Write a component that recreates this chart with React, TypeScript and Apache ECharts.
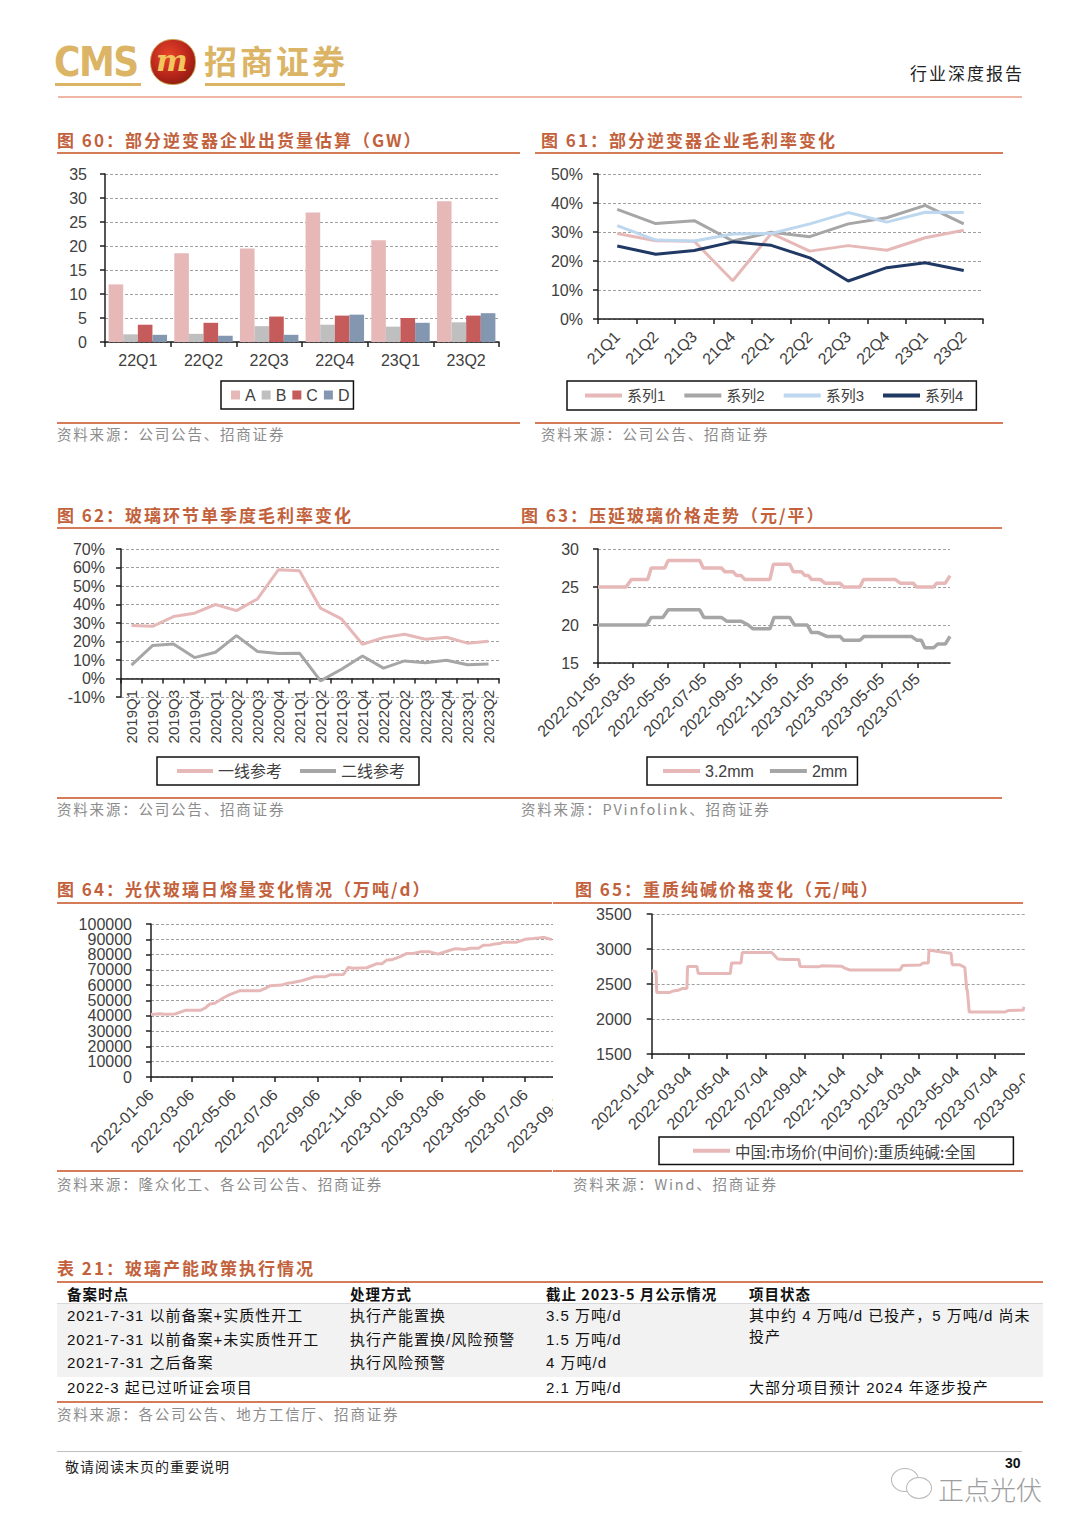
import React, { useEffect, useRef } from 'react';
import * as echarts from 'echarts';

// ---------------- data ----------------
const QUARTERS_60 = ['22Q1', '22Q2', '22Q3', '22Q4', '23Q1', '23Q2'];
const SHIP_A = [12, 18.5, 19.5, 27, 21.2, 29.3];
const SHIP_B = [1.6, 1.7, 3.3, 3.6, 3.2, 4.1];
const SHIP_C = [3.6, 4.0, 5.3, 5.5, 5.0, 5.5];
const SHIP_D = [1.5, 1.3, 1.5, 5.7, 4.0, 6.0];

const QUARTERS_61 = ['21Q1', '21Q2', '21Q3', '21Q4', '22Q1', '22Q2', '22Q3', '22Q4', '23Q1', '23Q2'];
const GM_S1 = [29.5, 27, 26.8, 13.2, 29.5, 23.4, 25.3, 23.7, 28, 30.6];
const GM_S2 = [37.8, 32.9, 33.9, 26.9, 29.9, 28.4, 32.8, 34.9, 39.2, 32.8];
const GM_S3 = [32.2, 27.2, 26.9, 29.3, 29.5, 32.8, 36.7, 33.4, 36.8, 36.7];
const GM_S4 = [25.2, 22.3, 23.6, 26.6, 25.4, 21.1, 13.1, 17.7, 19.4, 16.7];

const QUARTERS_62 = ['2019Q1', '2019Q2', '2019Q3', '2019Q4', '2020Q1', '2020Q2', '2020Q3', '2020Q4', '2021Q1', '2021Q2', '2021Q3', '2021Q4', '2022Q1', '2022Q2', '2022Q3', '2022Q4', '2023Q1', '2023Q2'];
const TIER1_62 = [28.6, 28.2, 33.5, 35.3, 40, 36.7, 43, 58.8, 58.3, 38, 32.2, 18.5, 22.1, 23.9, 21.2, 22.3, 19.1, 20.1];
const TIER2_62 = [7.2, 17.8, 18.7, 11.3, 14.2, 23.2, 14.6, 13.5, 13.7, -1.3, 5, 12.2, 5.6, 9.5, 8.5, 9.9, 7.4, 7.9];

const BASE_63 = '2022-01-05';
const TICKS_63 = ['2022-01-05', '2022-03-05', '2022-05-05', '2022-07-05', '2022-09-05', '2022-11-05', '2023-01-05', '2023-03-05', '2023-05-05', '2023-07-05'];
const END_63 = '2023-08-30';
const G32_DATES = ['2022-01-05', '2022-02-22', '2022-03-03', '2022-03-31', '2022-04-06', '2022-04-29', '2022-05-05', '2022-06-28', '2022-07-04', '2022-08-04', '2022-08-10', '2022-08-24', '2022-08-30', '2022-09-07', '2022-09-13', '2022-10-26', '2022-11-01', '2022-11-29', '2022-12-05', '2022-12-19', '2022-12-25', '2022-12-31', '2023-01-05', '2023-01-20', '2023-01-28', '2023-02-23', '2023-03-01', '2023-03-29', '2023-04-04', '2023-05-28', '2023-06-06', '2023-06-28', '2023-07-04', '2023-08-02', '2023-08-07', '2023-08-22', '2023-08-30'];
const G32_VALUES = [25, 25, 26, 26, 27.5, 27.5, 28.5, 28.5, 27.5, 27.5, 27, 27, 26.5, 26.5, 26, 26, 28, 28, 27, 27, 26.5, 26.5, 26, 26, 25.5, 25.5, 25, 25, 26, 26, 25.5, 25.5, 25, 25, 25.5, 25.5, 26.5];
const G2_DATES = ['2022-01-05', '2022-03-29', '2022-04-06', '2022-04-26', '2022-05-05', '2022-06-28', '2022-07-05', '2022-08-04', '2022-08-13', '2022-09-07', '2022-09-19', '2022-09-27', '2022-10-26', '2022-11-02', '2022-11-29', '2022-12-07', '2022-12-29', '2023-01-05', '2023-01-17', '2023-01-31', '2023-02-23', '2023-03-01', '2023-03-29', '2023-04-05', '2023-06-25', '2023-07-04', '2023-07-12', '2023-07-18', '2023-08-02', '2023-08-09', '2023-08-22', '2023-08-30'];
const G2_VALUES = [20, 20, 21, 21, 22, 22, 21, 21, 20.5, 20.5, 20, 19.5, 19.5, 21, 21, 20, 20, 19, 19, 18.5, 18.5, 18, 18, 18.5, 18.5, 18, 18, 17, 17, 17.5, 17.5, 18.5];

const BASE_64 = '2022-01-06';
const TICKS_64 = ['2022-01-06', '2022-03-06', '2022-05-06', '2022-07-06', '2022-09-06', '2022-11-06', '2023-01-06', '2023-03-06', '2023-05-06', '2023-07-06', '2023-09-06'];
const Y_LABELS_64_EVEN = [0, 20000, 40000, 60000, 80000, 100000];
const Y_LABELS_64_ODD = [10000, 30000, 50000, 70000, 90000];
const MELT_DATES = ['2022-01-06', '2022-01-19', '2022-01-26', '2022-02-10', '2022-02-25', '2022-03-19', '2022-03-26', '2022-04-02', '2022-04-09', '2022-04-22', '2022-05-01', '2022-05-16', '2022-06-14', '2022-06-21', '2022-06-29', '2022-07-16', '2022-07-23', '2022-07-30', '2022-08-12', '2022-09-02', '2022-09-17', '2022-09-24', '2022-10-14', '2022-10-21', '2022-10-28', '2022-11-17', '2022-12-01', '2022-12-09', '2022-12-16', '2022-12-23', '2023-01-04', '2023-01-14', '2023-01-24', '2023-02-03', '2023-02-17', '2023-03-01', '2023-03-14', '2023-03-26', '2023-04-02', '2023-04-09', '2023-04-17', '2023-04-29', '2023-05-06', '2023-05-16', '2023-05-23', '2023-05-30', '2023-06-04', '2023-06-24', '2023-07-06', '2023-07-18', '2023-07-30', '2023-08-04', '2023-08-14'];
const MELT_VALUES = [40800, 41400, 41000, 41200, 43600, 43600, 45100, 47700, 48200, 51800, 53800, 56400, 56400, 57700, 59700, 60100, 61200, 61600, 62700, 65500, 65500, 66800, 67000, 71600, 71100, 71400, 74000, 74000, 76400, 76600, 78500, 80700, 80700, 81800, 81800, 80300, 82200, 83900, 83700, 83300, 84200, 84200, 86100, 86300, 87000, 87200, 88100, 88100, 90000, 90500, 91100, 91100, 89800];

const BASE_65 = '2022-01-04';
const TICKS_65 = ['2022-01-04', '2022-03-04', '2022-05-04', '2022-07-04', '2022-09-04', '2022-11-04', '2023-01-04', '2023-03-04', '2023-05-04', '2023-07-04', '2023-09-04'];
const SODA_DATES = ['2022-01-04', '2022-01-11', '2022-01-12', '2022-02-02', '2022-02-07', '2022-02-15', '2022-02-21', '2022-03-01', '2022-03-02', '2022-03-17', '2022-03-19', '2022-05-09', '2022-05-11', '2022-05-26', '2022-05-28', '2022-07-14', '2022-07-22', '2022-07-24', '2022-08-04', '2022-08-26', '2022-08-28', '2022-09-26', '2022-10-01', '2022-11-02', '2022-11-07', '2022-11-15', '2023-02-03', '2023-02-07', '2023-03-07', '2023-03-12', '2023-03-20', '2023-03-21', '2023-03-25', '2023-04-05', '2023-04-12', '2023-04-25', '2023-04-27', '2023-05-09', '2023-05-17', '2023-05-20', '2023-05-21', '2023-05-24', '2023-07-20', '2023-07-25', '2023-08-18', '2023-08-19'];
const SODA_VALUES = [2690, 2675, 2380, 2380, 2400, 2410, 2435, 2435, 2750, 2750, 2650, 2650, 2800, 2800, 2950, 2950, 2870, 2856, 2850, 2850, 2750, 2745, 2760, 2755, 2727, 2700, 2700, 2765, 2770, 2800, 2800, 2985, 2980, 2965, 2955, 2940, 2775, 2775, 2735, 2425, 2410, 2100, 2100, 2120, 2130, 2175];

// ---------------- styles ----------------
const FONT = "'Liberation Sans', Arial, 'Noto Sans CJK SC', sans-serif";
const CJK = "'Noto Sans CJK SC', 'Liberation Sans', sans-serif";
const TITLE_COLOR = '#C2613B';
const RULE_COLOR = '#D47C5A';
const SRC_COLOR = '#8C8C8C';
const AX = '#1F1F1F';
const PINK = '#E6B9B8';
const GRAY = '#A6A6A6';
const LABEL = { color: '#404040', fontSize: 16, fontFamily: FONT };

const dayOf = (d: string, base: string) => Math.round((Date.parse(d) - Date.parse(base)) / 86400000);

const axisLine = { show: true, onZero: false, lineStyle: { color: AX, width: 1.5 } };
const axisTick = { show: true, length: 5, inside: false, lineStyle: { color: AX, width: 1.5 } };
const splitLine = { show: true, lineStyle: { color: '#A0A0A0', type: [3, 2], width: 1 } };

function yAxis(min: number, max: number, interval: number, margin: number, suffix = '') {
  return {
    type: 'value', min, max, interval,
    axisLine, axisTick, splitLine,
    axisLabel: { ...LABEL, margin, showMinLabel: true, showMaxLabel: true, hideOverlap: false, formatter: (v: number) => String(v) + suffix },
  };
}

function dateAxis(base: string, ticks: string[], max: number, margin: number) {
  const vals = ticks.map((t) => dayOf(t, base));
  return {
    type: 'value', min: 0, max,
    axisLine: { ...axisLine },
    axisTick: { ...axisTick, customValues: vals },
    splitLine: { show: false },
    axisLabel: {
      ...LABEL, rotate: 45, margin, customValues: vals,
      formatter: (v: number) => { const i = vals.indexOf(Math.round(v)); return i >= 0 ? ticks[i] : ''; },
    },
  };
}

function legend(left: number, top: number, padding: number[], extra: any) {
  return {
    left, top, padding, orient: 'horizontal',
    borderColor: '#111', borderWidth: 1.5, borderRadius: 0, backgroundColor: '#fff',
    textStyle: { color: '#404040', fontSize: 16, fontFamily: FONT },
    ...extra,
  };
}

const lineSeries = (name: string, data: any[], color: string, width = 3) => ({
  type: 'line', name, data, symbol: 'none', showSymbol: false,
  lineStyle: { color, width }, itemStyle: { color },
});

const GRID = { containLabel: false, outerBoundsMode: 'none' };

// chart 60
const option60 = {
  animation: false,
  grid: { ...GRID, left: 55, top: 14, width: 394, height: 168 },
  xAxis: {
    type: 'category', data: QUARTERS_60,
    axisLine, axisTick: { ...axisTick, alignWithLabel: false },
    axisLabel: { ...LABEL, margin: 10 },
  },
  yAxis: yAxis(0, 35, 5, 18),
  legend: legend(171, 221, [6, 4, 6, 10], {
    itemWidth: 9, itemHeight: 9, itemGap: 6, icon: 'rect',
    data: ['A', 'B', 'C', 'D'],
  }),
  series: [
    { type: 'bar', name: 'A', data: SHIP_A, barGap: '0%', barCategoryGap: '11%', itemStyle: { color: '#E6B9B8' } },
    { type: 'bar', name: 'B', data: SHIP_B, barGap: '0%', barCategoryGap: '11%', itemStyle: { color: '#BFBFBF' } },
    { type: 'bar', name: 'C', data: SHIP_C, barGap: '0%', barCategoryGap: '11%', itemStyle: { color: '#C65B5B' } },
    { type: 'bar', name: 'D', data: SHIP_D, barGap: '0%', barCategoryGap: '11%', itemStyle: { color: '#8497B0' } },
  ],
};

// chart 61
const option61 = {
  animation: false,
  grid: { ...GRID, left: 63, top: 14, width: 385, height: 145 },
  xAxis: {
    type: 'category', data: QUARTERS_61, boundaryGap: true,
    axisLine, axisTick, axisLabel: { ...LABEL, rotate: 45, margin: 15 },
  },
  yAxis: yAxis(0, 50, 10, 15, '%'),
  legend: legend(32, 221, [7, 13, 7, 18], {
    itemWidth: 37, itemHeight: 4, itemGap: 19, icon: 'rect',
    textStyle: { color: '#404040', fontSize: 15, fontFamily: FONT },
    data: ['系列1', '系列2', '系列3', '系列4'],
  }),
  series: [
    lineSeries('系列1', GM_S1, '#E6B9B8'),
    lineSeries('系列2', GM_S2, '#A6A6A6'),
    lineSeries('系列3', GM_S3, '#BDD7EE'),
    lineSeries('系列4', GM_S4, '#203864'),
  ],
};

// chart 62
const option62 = {
  animation: false,
  grid: { ...GRID, left: 71, top: 14, width: 378, height: 148 },
  xAxis: {
    type: 'category', data: QUARTERS_62, boundaryGap: true,
    axisLine: { show: true, onZero: true, lineStyle: { color: AX, width: 1.5 } },
    axisTick, axisLabel: { ...LABEL, fontSize: 15, rotate: 90, margin: -7, interval: 0 },
  },
  yAxis: yAxis(-10, 70, 10, 16, '%'),
  legend: legend(107, 222, [6, 14, 6, 20], {
    itemWidth: 36, itemHeight: 4, itemGap: 18, icon: 'rect',
    data: ['一线参考', '二线参考'],
  }),
  series: [
    lineSeries('一线参考', TIER1_62, PINK),
    lineSeries('二线参考', TIER2_62, GRAY),
  ],
};

// chart 63
const option63 = {
  animation: false,
  grid: { ...GRID, left: 83, top: 14, width: 352, height: 114 },
  xAxis: dateAxis(BASE_63, TICKS_63, dayOf(END_63, BASE_63), 13),
  yAxis: yAxis(15, 30, 5, 19),
  legend: legend(132, 222, [6, 10, 6, 16], {
    itemWidth: 37, itemHeight: 4, itemGap: 16, icon: 'rect',
    data: ['3.2mm', '2mm'],
  }),
  series: [
    lineSeries('3.2mm', G32_DATES.map((d, i) => [dayOf(d, BASE_63), G32_VALUES[i]]), PINK, 3.5),
    lineSeries('2mm', G2_DATES.map((d, i) => [dayOf(d, BASE_63), G2_VALUES[i]]), GRAY, 3.5),
  ],
};

// chart 64: y labels split over two overlaid axes so none is hidden as overlapping
const option64 = {
  animation: false,
  grid: { ...GRID, left: 101, top: 14, width: 416.5, height: 153 },
  xAxis: dateAxis(BASE_64, TICKS_64, dayOf(TICKS_64[TICKS_64.length - 1], BASE_64), 15),
  yAxis: [
    {
      type: 'value', min: 0, max: 100000, interval: 10000, position: 'left',
      axisLine, axisTick, splitLine,
      axisLabel: { ...LABEL, margin: 19, customValues: Y_LABELS_64_EVEN, formatter: (v: number) => String(v) },
    },
    {
      type: 'value', min: 0, max: 100000, interval: 10000, position: 'left', offset: 0,
      axisLine: { show: false }, axisTick: { show: false }, splitLine: { show: false },
      axisLabel: { ...LABEL, margin: 19, customValues: Y_LABELS_64_ODD, formatter: (v: number) => String(v) },
    },
  ],
  series: [lineSeries('日熔量', MELT_DATES.map((d, i) => [dayOf(d, BASE_64), MELT_VALUES[i]]), PINK, 3)],
};

// chart 65
const option65 = {
  animation: false,
  grid: { ...GRID, left: 86.7, top: 19, width: 382.3, height: 140 },
  xAxis: dateAxis(BASE_65, TICKS_65, dayOf(TICKS_65[TICKS_65.length - 1], BASE_65), 15),
  yAxis: yAxis(1500, 3500, 500, 20),
  legend: legend(94, 242, [6, 38, 6, 34], {
    itemWidth: 37, itemHeight: 4, icon: 'rect',
    textStyle: { color: '#404040', fontSize: 15.5, fontFamily: CJK },
    data: ['中国:市场价(中间价):重质纯碱:全国'],
  }),
  series: [lineSeries('中国:市场价(中间价):重质纯碱:全国', SODA_DATES.map((d, i) => [dayOf(d, BASE_65), SODA_VALUES[i]]), PINK, 3)],
};

// ---------------- components ----------------
function EChart({ option, left, top, width, height }: any) {
  const ref = useRef<HTMLDivElement>(null);
  useEffect(() => {
    const chart = echarts.init(ref.current as HTMLDivElement, null, { renderer: 'svg' });
    chart.setOption(option);
    return () => chart.dispose();
  }, [option]);
  return <div ref={ref} style={{ position: 'absolute', left, top, width, height, overflow: 'hidden' }} />;
}

function Txt({ x, y, children, style }: any) {
  return (
    <div style={{ position: 'absolute', left: x, top: y, transform: 'translateY(-50%)', whiteSpace: 'nowrap', lineHeight: 1.2, ...style }}>
      {children}
    </div>
  );
}

function Rule({ x, y, w, h = 2, color = RULE_COLOR }: any) {
  return <div style={{ position: 'absolute', left: x, top: y, width: w, height: h, background: color }} />;
}

const titleStyle = { color: TITLE_COLOR, fontSize: 17, fontWeight: 700, fontFamily: CJK, letterSpacing: 2 };
const srcStyle = { color: SRC_COLOR, fontSize: 14.5, fontFamily: CJK, letterSpacing: 1.8 };
const cellStyle = { color: '#111', fontSize: 15, fontFamily: FONT, letterSpacing: 1 };
const headStyle = { color: '#111', fontSize: 14.5, fontFamily: CJK, fontWeight: 700, letterSpacing: 1 };

export default function App() {
  const COLX = [67, 350, 546, 749];
  return (
    <div style={{ position: 'absolute', left: 0, top: 0, width: 1080, height: 1528, background: '#fff', overflow: 'hidden' }}>
      {/* header */}
      <Txt x={54} y={62} style={{ color: '#DBB465', fontSize: 40, fontWeight: 700, fontFamily: "'DejaVu Sans Condensed', 'DejaVu Sans', sans-serif", letterSpacing: -1.5 }}>CMS</Txt>
      <Rule x={55} y={83} w={86} h={3} color="#DBB465" />
      <div style={{ position: 'absolute', left: 150, top: 39, width: 44, height: 44, borderRadius: 22, background: 'radial-gradient(circle at 40% 35%, #E8452A 0%, #B5241A 55%, #6E1608 100%)', border: '1px solid #C9A050' }} />
      <Txt x={156} y={61} style={{ color: '#F2C65E', fontSize: 30, fontWeight: 700, fontStyle: 'italic', fontFamily: "'DejaVu Serif', serif" }}>m</Txt>
      <Txt x={204} y={61} style={{ color: '#DBB465', fontSize: 33, fontWeight: 700, fontFamily: CJK, letterSpacing: 3 }}>招商证券</Txt>
      <Rule x={205} y={83} w={140} h={3} color="#DBB465" />
      <Txt x={910} y={73} style={{ color: '#222', fontSize: 17, fontFamily: CJK, letterSpacing: 2 }}>行业深度报告</Txt>
      <Rule x={58} y={96} w={964} h={2} color="#F0B6A6" />

      {/* chart titles and rules */}
      <Txt x={57} y={140} style={titleStyle}>图 60：部分逆变器企业出货量估算（GW）</Txt>
      <Rule x={57} y={152} w={463} />
      <Txt x={541} y={140} style={titleStyle}>图 61：部分逆变器企业毛利率变化</Txt>
      <Rule x={535} y={152} w={468} />
      <Rule x={57} y={422} w={463} />
      <Rule x={535} y={422} w={468} />
      <Txt x={57} y={434} style={srcStyle}>资料来源：公司公告、招商证券</Txt>
      <Txt x={541} y={434} style={srcStyle}>资料来源：公司公告、招商证券</Txt>

      <Txt x={57} y={515} style={titleStyle}>图 62：玻璃环节单季度毛利率变化</Txt>
      <Rule x={57} y={527} w={463} />
      <Txt x={521} y={515} style={titleStyle}>图 63：压延玻璃价格走势（元/平）</Txt>
      <Rule x={515} y={527} w={487} />
      <Rule x={57} y={797} w={463} />
      <Rule x={515} y={797} w={487} />
      <Txt x={57} y={809} style={srcStyle}>资料来源：公司公告、招商证券</Txt>
      <Txt x={521} y={809} style={srcStyle}>资料来源：PVinfolink、招商证券</Txt>

      <Txt x={57} y={889} style={titleStyle}>图 64：光伏玻璃日熔量变化情况（万吨/d）</Txt>
      <Rule x={57} y={902} w={495} />
      <Txt x={575} y={889} style={titleStyle}>图 65：重质纯碱价格变化（元/吨）</Txt>
      <Rule x={553} y={902} w={470} />
      <Rule x={57} y={1170} w={495} />
      <Rule x={553} y={1170} w={470} />
      <Txt x={57} y={1184} style={srcStyle}>资料来源：隆众化工、各公司公告、招商证券</Txt>
      <Txt x={573} y={1184} style={srcStyle}>资料来源：Wind、招商证券</Txt>

      {/* charts */}
      <EChart option={option60} left={50} top={160} width={470} height={260} />
      <EChart option={option61} left={535} top={160} width={480} height={260} />
      <EChart option={option62} left={50} top={535} width={470} height={260} />
      <EChart option={option63} left={515} top={535} width={490} height={260} />
      <EChart option={option64} left={50} top={910} width={503} height={258} />
      <EChart option={option65} left={565} top={895} width={460} height={274} />

      {/* table */}
      <Txt x={57} y={1268} style={titleStyle}>表 21：玻璃产能政策执行情况</Txt>
      <Rule x={57} y={1281} w={986} />
      <div style={{ position: 'absolute', left: 57, top: 1304, width: 986, height: 73, background: '#F2F2F2' }} />
      <Rule x={57} y={1303} w={986} h={1} color="#D9D9D9" />
      <Txt x={COLX[0]} y={1294} style={headStyle}>备案时点</Txt>
      <Txt x={COLX[1]} y={1294} style={headStyle}>处理方式</Txt>
      <Txt x={COLX[2]} y={1294} style={headStyle}>截止 2023-5 月公示情况</Txt>
      <Txt x={COLX[3]} y={1294} style={headStyle}>项目状态</Txt>

      <Txt x={COLX[0]} y={1316} style={cellStyle}>2021-7-31 以前备案+实质性开工</Txt>
      <Txt x={COLX[1]} y={1316} style={cellStyle}>执行产能置换</Txt>
      <Txt x={COLX[2]} y={1316} style={cellStyle}>3.5 万吨/d</Txt>
      <Txt x={COLX[3]} y={1316} style={cellStyle}>其中约 4 万吨/d 已投产，5 万吨/d 尚未</Txt>
      <Txt x={COLX[3]} y={1337} style={cellStyle}>投产</Txt>

      <Txt x={COLX[0]} y={1340} style={cellStyle}>2021-7-31 以前备案+未实质性开工</Txt>
      <Txt x={COLX[1]} y={1340} style={cellStyle}>执行产能置换/风险预警</Txt>
      <Txt x={COLX[2]} y={1340} style={cellStyle}>1.5 万吨/d</Txt>

      <Txt x={COLX[0]} y={1363} style={cellStyle}>2021-7-31 之后备案</Txt>
      <Txt x={COLX[1]} y={1363} style={cellStyle}>执行风险预警</Txt>
      <Txt x={COLX[2]} y={1363} style={cellStyle}>4 万吨/d</Txt>

      <Txt x={COLX[0]} y={1388} style={cellStyle}>2022-3 起已过听证会项目</Txt>
      <Txt x={COLX[2]} y={1388} style={cellStyle}>2.1 万吨/d</Txt>
      <Txt x={COLX[3]} y={1388} style={cellStyle}>大部分项目预计 2024 年逐步投产</Txt>
      <Rule x={57} y={1401} w={986} />
      <Txt x={57} y={1414} style={srcStyle}>资料来源：各公司公告、地方工信厅、招商证券</Txt>

      {/* footer */}
      <Rule x={57} y={1451} w={965} h={1} color="#BFBFBF" />
      <Txt x={65} y={1466} style={{ color: '#222', fontSize: 14, fontFamily: CJK, letterSpacing: 1 }}>敬请阅读末页的重要说明</Txt>
      <Txt x={1005} y={1463} style={{ color: '#111', fontSize: 14, fontWeight: 700, fontFamily: FONT, lineHeight: 1 }}>30</Txt>
      <div style={{ position: 'absolute', left: 891, top: 1468, width: 26, height: 22, borderRadius: '50%', border: '1.5px solid #B8B8B8' }} />
      <div style={{ position: 'absolute', left: 906, top: 1477, width: 24, height: 20, borderRadius: '50%', border: '1.5px solid #B8B8B8', background: '#fff' }} />
      <Txt x={938} y={1489} style={{ color: '#9E9E9E', fontSize: 26, fontFamily: CJK, fontWeight: 300, lineHeight: 1 }}>正点光伏</Txt>
    </div>
  );
}
